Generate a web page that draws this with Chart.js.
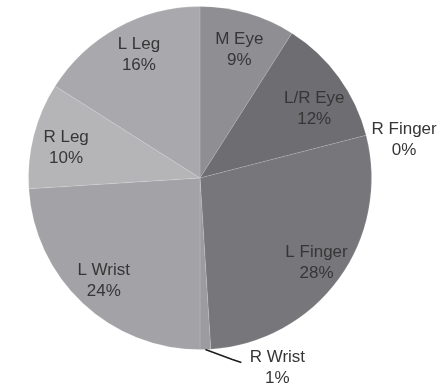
<!DOCTYPE html>
<html>
<head>
<meta charset="utf-8">
<title>Distribution by site</title>
<script src="https://cdn.jsdelivr.net/npm/chart.js@4"></script>
<style>
  html, body { margin: 0; padding: 0; background: #fff; }
  #pie { display: block; }
</style>
</head>
<body>
<canvas id="pie" width="447" height="386"></canvas>
<script>
// Slices go clockwise from 12 o'clock
const siteLabels = ['M Eye', 'L/R Eye', 'R Finger', 'L Finger', 'R Wrist', 'L Wrist', 'R Leg', 'L Leg'];
const sitePercents = [9, 12, 0, 28, 1, 24, 10, 16];
const sliceColors = ['#8f8f93', '#6e6e72', '#7f7f83', '#77777b', '#9c9ca0', '#a3a3a7', '#b5b5b8', '#a9a9ad'];

// Where each label sits: fraction of radius along the slice's mid angle, plus a nudge.
// The two thin slices get their labels outside the pie, R Wrist with a leader line.
const labelPlacement = [
    { f: 0.78, dx: 2, dy: 0 },
    { f: 0.78, dx: 6, dy: 9 },
    { f: 1.0, dx: 38, dy: 4 },
    { f: 0.84, dx: 0, dy: 0 },
    { f: 1.0, dx: 72, dy: 18, leader: [[27, 10], [36, 13]] },
    { f: 0.82, dx: 0, dy: 0 },
    { f: 0.80, dx: -1, dy: 4 },
    { f: 0.80, dx: 5, dy: -3 }
];

const sliceLabels = {
    id: 'sliceLabels',
    afterDatasetsDraw(chart) {
        const ctx = chart.ctx;
        const meta = chart.getDatasetMeta(0);
        const values = chart.data.datasets[0].data;
        const total = values.reduce((a, v) => a + v, 0);
        ctx.save();
        ctx.font = '17px "Liberation Sans", Arial, sans-serif';
        ctx.fillStyle = '#363636';
        ctx.textAlign = 'center';
        ctx.textBaseline = 'middle';
        meta.data.forEach((arc, i) => {
            const p = arc.getProps(['x', 'y', 'startAngle', 'endAngle', 'outerRadius'], true);
            const mid = (p.startAngle + p.endAngle) / 2;
            const place = labelPlacement[i];
            const ax = p.x + Math.cos(mid) * p.outerRadius * place.f;
            const ay = p.y + Math.sin(mid) * p.outerRadius * place.f;
            if (place.leader) {
                ctx.beginPath();
                ctx.strokeStyle = '#1e1e1e';
                ctx.lineWidth = 1.6;
                ctx.moveTo(ax, ay);
                place.leader.forEach(([lx, ly]) => ctx.lineTo(ax + lx, ay + ly));
                ctx.stroke();
            }
            const cx = ax + place.dx;
            const cy = ay + place.dy;
            const pct = Math.round(values[i] / total * 100) + '%';
            ctx.fillText(chart.data.labels[i], cx, cy - 10.5);
            ctx.fillText(pct, cx, cy + 10.5);
        });
        ctx.restore();
    }
};

new Chart(document.getElementById('pie').getContext('2d'), {
    type: 'pie',
    data: {
        labels: siteLabels,
        datasets: [{
            data: sitePercents,
            backgroundColor: sliceColors,
            borderColor: 'rgba(255,255,255,0.12)',
            borderWidth: 1
        }]
    },
    options: {
        responsive: false,
        animation: false,
        layout: { padding: { left: 28, top: 6, right: 75, bottom: 36 } },
        plugins: {
            legend: { display: false },
            tooltip: { enabled: false }
        }
    },
    plugins: [sliceLabels]
});
</script>
</body>
</html>
